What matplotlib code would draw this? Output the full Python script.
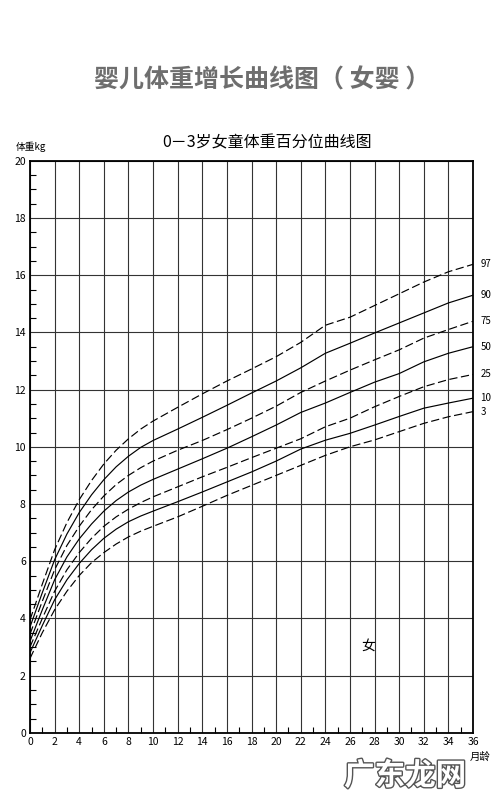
import matplotlib
matplotlib.use('Agg')
import matplotlib.pyplot as plt
import matplotlib.patheffects as pe
from matplotlib.ticker import MultipleLocator

plt.rcParams['font.family'] = ['Noto Sans CJK SC', 'DejaVu Sans']

# 月龄 (months)
months = [0, 1, 2, 3, 4, 5, 6, 7, 8, 9, 10, 12, 14, 16, 18, 20, 22, 24, 26, 28, 30, 32, 34, 36]

# 百分位体重 (kg)
p97 = [3.95, 5.2, 6.4, 7.35, 8.15, 8.82, 9.4, 9.88, 10.28, 10.62, 10.9, 11.38,
       11.85, 12.3, 12.72, 13.15, 13.65, 14.25, 14.53, 14.94, 15.35, 15.76, 16.12, 16.38]
p90 = [3.7, 4.9, 6.05, 6.95, 7.7, 8.32, 8.85, 9.3, 9.67, 9.98, 10.22, 10.62,
       11.03, 11.45, 11.88, 12.3, 12.76, 13.27, 13.62, 13.98, 14.33, 14.68, 15.03, 15.3]
p75 = [3.45, 4.6, 5.7, 6.55, 7.22, 7.8, 8.28, 8.68, 9.0, 9.27, 9.5, 9.88,
       10.22, 10.6, 11.0, 11.42, 11.9, 12.3, 12.68, 13.04, 13.39, 13.8, 14.1, 14.39]
p50 = [3.2, 4.3, 5.35, 6.15, 6.78, 7.3, 7.75, 8.12, 8.42, 8.66, 8.86, 9.22,
       9.58, 9.95, 10.35, 10.76, 11.2, 11.53, 11.9, 12.26, 12.56, 12.97, 13.27, 13.5]
p25 = [3.0, 4.0, 4.95, 5.7, 6.3, 6.8, 7.22, 7.55, 7.82, 8.05, 8.25, 8.6,
       8.95, 9.28, 9.62, 9.95, 10.28, 10.7, 11.0, 11.4, 11.76, 12.1, 12.35, 12.53]
p10 = [2.8, 3.75, 4.65, 5.35, 5.92, 6.4, 6.8, 7.12, 7.38, 7.58, 7.75, 8.08,
       8.42, 8.77, 9.12, 9.5, 9.92, 10.23, 10.47, 10.76, 11.06, 11.35, 11.53, 11.7]
p3 = [2.6, 3.5, 4.3, 4.95, 5.5, 5.95, 6.3, 6.6, 6.85, 7.05, 7.22, 7.55,
      7.92, 8.3, 8.65, 9.0, 9.35, 9.7, 10.0, 10.24, 10.53, 10.82, 11.05, 11.23]

curves = [('97', p97, True), ('90', p90, False), ('75', p75, True), ('50', p50, False),
          ('25', p25, True), ('10', p10, False), ('3', p3, True)]

fig = plt.figure(figsize=(5, 8), dpi=100)
ax = fig.add_axes([0.06, 0.084, 0.886, 0.715])

for name, vals, dashed in curves:
    line, = ax.plot(months, vals, color='black', lw=0.85)
    if dashed:
        line.set_dashes((7, 3))
    ax.text(36.6, vals[-1], name, fontsize=7, va='center', ha='left')

ax.set_xlim(0, 36)
ax.set_ylim(0, 20)
ax.xaxis.set_major_locator(MultipleLocator(2))
ax.yaxis.set_major_locator(MultipleLocator(2))
ax.xaxis.set_minor_locator(MultipleLocator(1))
ax.yaxis.set_minor_locator(MultipleLocator(0.5))
ax.grid(True, which='major', color='#333333', lw=0.8)
ax.tick_params(which='major', length=0, labelsize=7.5, pad=3)
ax.tick_params(which='minor', direction='in', length=4, width=0.8)
for s in ax.spines.values():
    s.set_linewidth(1.3)

ax.text(27.5, 3.05, '女', fontsize=10, ha='center', va='center')

fig.text(0.525, 0.9, '婴儿体重增长曲线图（ 女婴 ）', fontsize=18, fontweight='bold',
         color='#6e6e6e', ha='center', va='center')
fig.text(0.535, 0.821, '0－3岁女童体重百分位曲线图', fontsize=11.5, ha='center', va='center')
fig.text(0.032, 0.816, '体重kg', fontsize=7, ha='left', va='center')
fig.text(0.94, 0.054, '月龄', fontsize=7.5, ha='left', va='center')

wm = fig.text(0.81, 0.03, '广东龙网', fontsize=22, fontweight='bold', color='white',
              ha='center', va='center')
wm.set_path_effects([pe.withStroke(linewidth=2, foreground='#555555')])

fig.savefig('out.png', dpi=100, facecolor='white')
